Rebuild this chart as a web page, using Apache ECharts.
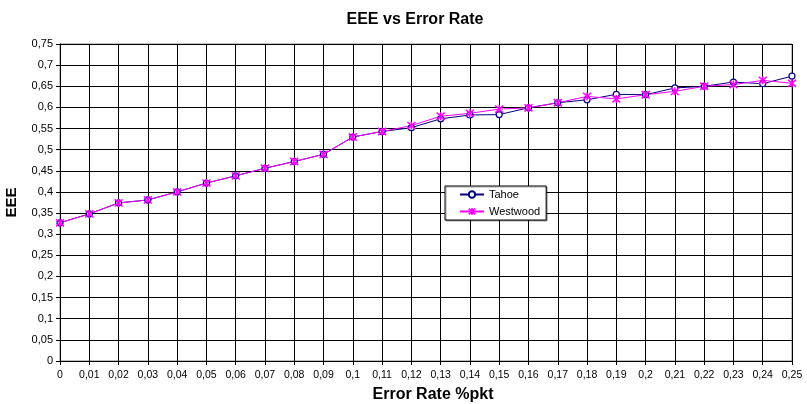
<!DOCTYPE html>
<html><head><meta charset="utf-8">
<script src="https://cdn.jsdelivr.net/npm/echarts@6/dist/echarts.min.js"></script>
<style>html,body{margin:0;padding:0;background:#fff}#c{width:807px;height:404px}</style>
</head><body><div id="c"></div>
<script>
const errorRates = [0,0.01,0.02,0.03,0.04,0.05,0.06,0.07,0.08,0.09,0.10,0.11,0.12,0.13,0.14,0.15,0.16,0.17,0.18,0.19,0.20,0.21,0.22,0.23,0.24,0.25];
const tahoe =    [0.327,0.348,0.374,0.381,0.400,0.421,0.438,0.456,0.472,0.489,0.530,0.543,0.552,0.573,0.582,0.583,0.599,0.611,0.618,0.631,0.630,0.646,0.650,0.660,0.656,0.674];
const westwood = [0.327,0.348,0.374,0.381,0.400,0.421,0.438,0.456,0.472,0.489,0.530,0.543,0.557,0.579,0.586,0.596,0.599,0.611,0.626,0.620,0.630,0.638,0.650,0.654,0.664,0.657];

const fmt = v => parseFloat(v.toFixed(2)).toString().replace('.', ',');
const pairs = arr => errorRates.map((x,i)=>[x,arr[i]]);
const star = 'path://M0,-5L0,5M-4.5,-4.5L4.5,4.5M-4.5,4.5L4.5,-4.5';
const font = 'Liberation Sans, Arial, sans-serif';

const chart = echarts.init(document.getElementById('c'));
chart.setOption({
  animation:false,
  backgroundColor:'#fff',
  textStyle:{fontFamily:font},
  title:{text:'EEE vs Error Rate',left:410,top:7,textAlign:'center',
    textStyle:{fontFamily:font,fontSize:16,fontWeight:'bold',color:'#000'}},
  grid:{left:60,right:15,top:44,bottom:43,containLabel:false,outerBoundsMode:'none',
    show:true,borderColor:'#808080',borderWidth:1},
  legend:{left:445,top:186,width:106,height:37,orient:'vertical',itemGap:6,itemWidth:24,itemHeight:8,
    padding:[3,6,3,14],backgroundColor:'#fff',borderColor:'#000',borderWidth:1,
    shadowColor:'rgba(0,0,0,0.35)',shadowBlur:0,shadowOffsetX:1,shadowOffsetY:1,
    textStyle:{fontFamily:font,fontSize:11,color:'#000'},
    data:['Tahoe','Westwood']},
  xAxis:{type:'value',min:0,max:0.25,interval:0.01,
    name:'Error Rate %pkt',nameLocation:'middle',nameGap:26,
    nameTextStyle:{fontFamily:font,fontSize:16,fontWeight:'bold',color:'#000',padding:[0,0,0,14]},
    axisLine:{lineStyle:{color:'#000',width:1}},
    axisTick:{show:true,length:4,lineStyle:{color:'#000'}},
    axisLabel:{formatter:fmt,color:'#000',fontSize:10.5,margin:9,fontFamily:font},
    splitLine:{show:true,lineStyle:{color:'#000',width:1}}},
  yAxis:{type:'value',min:0,max:0.75,interval:0.05,
    name:'EEE',nameLocation:'middle',nameGap:41,
    nameTextStyle:{fontFamily:font,fontSize:15,fontWeight:'bold',color:'#000'},
    axisLine:{show:true,lineStyle:{color:'#000',width:1}},
    axisTick:{show:true,length:4,lineStyle:{color:'#000'}},
    axisLabel:{formatter:fmt,color:'#000',fontSize:11,margin:7,fontFamily:font},
    splitLine:{show:true,lineStyle:{color:'#000',width:1}}},
  series:[
    {name:'Tahoe',type:'line',data:pairs(tahoe),symbol:'circle',symbolSize:6,
      lineStyle:{color:'#000080',width:1},
      itemStyle:{color:'#fff',borderColor:'#000080',borderWidth:1.2}},
    {name:'Westwood',type:'line',data:pairs(westwood),symbol:star,symbolSize:8,
      lineStyle:{color:'#FF00FF',width:1},
      itemStyle:{color:'#FF00FF',borderColor:'#FF00FF',borderWidth:1.5}}
  ]
});
</script></body></html>
